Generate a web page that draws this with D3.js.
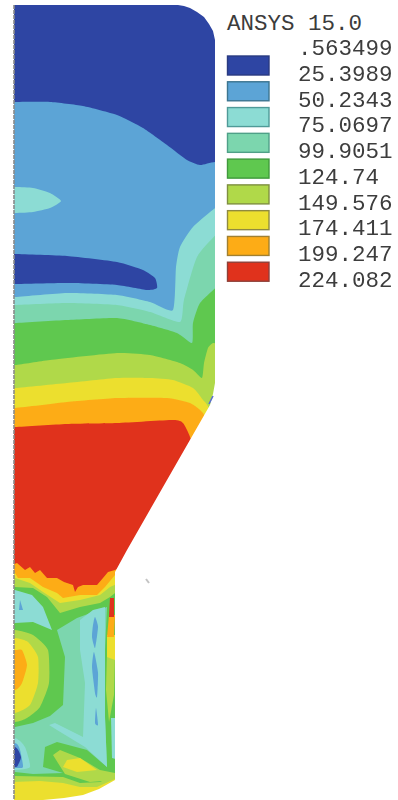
<!DOCTYPE html>
<html>
<head>
<meta charset="utf-8">
<style>
  html, body { margin: 0; background: #fff; overflow: hidden; }
  svg { display: block; }
  text { font-family: "Liberation Mono", monospace; fill: #3c3c3c; }
</style>
<script src="https://cdn.jsdelivr.net/npm/d3@7"></script>
</head>
<body>
<svg width="398" height="800"></svg>
<script>
// legend
var title = "ANSYS 15.0";
var levels = [".563499", "25.3989", "50.2343", "75.0697", "99.9051", "124.74", "149.576", "174.411", "199.247", "224.082"];
var bandColors = ["#2e45a3", "#5ba4d6", "#8cdcd4", "#7bd6ae", "#5fc84f", "#b0d94a", "#ecdf2f", "#fdac18", "#e0301e"];
var swatchEdges = ["#2a3a80", "#3d7590", "#4f9a98", "#4fa088", "#3f9a3c", "#7f8f40", "#8f8a40", "#a08030", "#8f4038"];

// contour boundaries, [r, z]
var outline = [[0,5],[164,5],[170,6],[176,8],[183,12],[190,17],[195,24],[199,31],[201,40],[201,383],[199,394],[196,405],[153,480],[113,550],[101,572],[101,780],[85,789],[69,795],[50,798],[29,800],[0,800]];
var topBlue = [[-30,-30],[230,-30],[230,162],[201,162],[186,165],[173,160],[153,145],[129,128],[103,115],[69,106],[36,102],[1,102],[-30,102]];
var aquaPatch = [[-30,187],[1,187],[19,188],[36,193],[47,201],[36,208],[19,212],[1,213],[-30,213]];
var blueStreak = [[-30,254],[1,254],[53,256],[103,262],[129,270],[141,278],[143,288],[133,290],[103,285],[53,283],[1,284],[-30,284]];
var aquaUpper = [[-30,297],[1,297],[53,293],[103,295],[136,302],[159,310],[162,267],[166,247],[179,227],[205,205],[230,190],[230,500],[-30,500]];
var tealUpper = [[-30,305],[1,305],[53,303],[103,305],[136,312],[166,322],[170,300],[183,257],[205,232],[230,215],[230,500],[-30,500]];
var greenUpper = [[-30,323],[1,323],[53,320],[103,318],[136,325],[163,333],[178,343],[179,323],[186,303],[205,285],[230,265],[230,500],[-30,500]];
var limeUpper = [[-30,365],[1,365],[36,360],[103,353],[136,355],[166,363],[179,370],[188,378],[190,363],[194,348],[199,343],[206,345],[230,350],[230,500],[-30,500]];
var yellowUpper = [[-30,388],[1,388],[53,383],[103,378],[136,378],[159,380],[179,388],[189,400],[196,412],[215,500],[-30,500]];
var orangeUpper = [[-30,408],[1,408],[53,402],[103,398],[153,398],[176,403],[189,413],[195,430],[215,500],[-30,500]];
var redCore = [[-30,427],[1,427],[53,424],[103,423],[159,420],[169,423],[176,437],[174,446],[130,530],[110,600],[-30,600]];

var orangeLower = [[-5,566],[3,563],[11,570],[16,567],[21,573],[26,570],[33,578],[43,578],[50,582],[59,585],[61,592],[64,587],[69,585],[83,585],[89,578],[94,572],[101,570],[105,568],[105,805],[-5,805]];
var yellowLower = [[-5,572],[1,573],[4,578],[16,578],[29,587],[43,593],[49,598],[66,595],[83,595],[91,587],[101,575],[105,575],[105,805],[-5,805]];
var limeLower = [[-5,577],[1,578],[16,583],[29,592],[46,603],[66,600],[86,595],[96,587],[105,583],[105,805],[-5,805]];
var greenLower = [[-5,587],[1,587],[19,588],[33,597],[46,613],[66,607],[86,603],[96,597],[105,590],[105,805],[-5,805]];

var aquaLeft = [[-5,590],[1,590],[18,595],[29,607],[38,630],[19,622],[1,623],[-5,623]];
var blueSpot = [[6,600],[9,610],[5,610]];
var limeRing = [[-30,630],[1,630],[19,635],[34,650],[35,683],[26,707],[13,718],[1,722],[-30,722]];
var yellowRing = [[-30,638],[1,638],[14,642],[24,657],[24,683],[16,705],[1,713],[-30,713]];
var orangeRing = [[-30,650],[1,650],[8,650],[13,665],[8,683],[1,690],[-30,690]];
var tealMain = [[43,630],[63,618],[93,607],[91,650],[91,717],[93,767],[73,750],[43,742],[31,747],[29,767],[49,773],[19,774],[1,772],[-5,772],[-5,727],[1,727],[19,723],[36,716],[49,705],[51,657]];
var aquaMain = [[66,620],[79,610],[91,607],[91,717],[93,767],[71,747],[43,730],[35,725],[41,723],[69,737],[71,683],[66,650]];
var blueFleckA = [[81,617],[84,627],[81,648],[78,637],[79,625]];
var blueFleckB = [[80,652],[84,673],[83,697],[81,693],[78,667]];
var blueFleckC = [[82,708],[84,725],[81,723]];
var limeStrip = [[93,655],[101,655],[100,695],[95,722],[92,690]];
var yellowStrip = [[93,635],[101,635],[101,660],[93,657]];
var orangeStrip = [[95,615],[101,615],[100,637],[93,637]];
var redStrip = [[96,598],[100,598],[100,617],[95,617]];
var aquaStrip = [[97,718],[105,718],[105,760],[98,758]];
var aquaFoot = [[-30,737],[1,738],[11,747],[16,767],[1,770],[-30,770]];
var blueFoot = [[-30,742],[1,743],[6,750],[9,767],[1,768],[-30,768]];
var navyFoot = [[-30,746],[1,747],[7,757],[4,765],[1,767],[-30,767]];
var limeBase = [[-5,777],[1,776],[49,777],[66,783],[86,782],[101,775],[105,775],[105,805],[-5,805]];
var limeWedge = [[39,755],[46,750],[66,758],[86,770],[101,773],[101,780],[76,782],[51,774],[44,763]];
var yellowBlob = [[53,760],[66,758],[83,770],[63,772],[49,767]];
var yellowBase = [[-5,782],[26,781],[49,783],[66,787],[83,787],[101,779],[105,778],[105,805],[-5,805]];

// stray marks left in the screenshot
var strayBlue = [[195,404],[199,396]];
var strayGray = [[132,579],[135,583]];

var svg = d3.select("svg");
var xScale = d3.scaleLinear().domain([0, 202]).range([14, 216]);
var yScale = d3.scaleLinear().domain([0, 800]).range([0, 800]);

var smooth = d3.line().x(d => xScale(d[0])).y(d => yScale(d[1])).curve(d3.curveCardinalClosed.tension(0.45));
var sharp = d3.line().x(d => xScale(d[0])).y(d => yScale(d[1])).curve(d3.curveLinearClosed);
var open = d3.line().x(d => xScale(d[0])).y(d => yScale(d[1]));

svg.append("defs").append("clipPath").attr("id", "body")
    .append("path").attr("d", sharp(outline));
svg.select("defs").append("filter").attr("id", "soft")
    .append("feGaussianBlur").attr("stdDeviation", 0.5);

var c = bandColors;
// painted back to front, upper part smooth, nozzle part jagged
var layers = [
    [topBlue, c[0], smooth], [aquaPatch, c[2], smooth], [blueStreak, c[0], smooth],
    [aquaUpper, c[2], smooth], [tealUpper, c[3], smooth], [greenUpper, c[4], smooth], [limeUpper, c[5], smooth],
    [yellowUpper, c[6], smooth], [orangeUpper, c[7], smooth], [redCore, c[8], smooth],
    [orangeLower, c[7], sharp], [yellowLower, c[6], sharp], [limeLower, c[5], sharp], [greenLower, c[4], sharp],
    [aquaLeft, c[2], sharp], [blueSpot, c[1], sharp],
    [limeRing, c[5], smooth], [yellowRing, c[6], smooth], [orangeRing, c[7], smooth],
    [tealMain, c[3], sharp], [aquaMain, c[2], sharp],
    [blueFleckA, c[1], smooth], [blueFleckB, c[1], smooth], [blueFleckC, c[1], smooth],
    [limeStrip, c[5], sharp], [yellowStrip, c[6], sharp], [orangeStrip, c[7], sharp], [redStrip, c[8], sharp], [aquaStrip, c[2], sharp],
    [aquaFoot, c[2], smooth], [blueFoot, c[1], smooth], [navyFoot, c[0], smooth],
    [limeBase, c[5], sharp], [limeWedge, c[5], sharp], [yellowBlob, c[6], sharp], [yellowBase, c[6], sharp]
];

var plot = svg.append("g").attr("clip-path", "url(#body)").attr("filter", "url(#soft)");
plot.append("path").attr("d", sharp(outline)).attr("fill", c[1]);
plot.selectAll("path.band")
    .data(layers)
    .enter()
    .append("path")
    .attr("class", "band")
    .attr("d", d => d[2](d[0]))
    .attr("fill", d => d[1]);

svg.append("path").attr("d", open(strayBlue)).attr("stroke", "#5a6fd0").attr("stroke-width", 1.5).attr("fill", "none");
svg.append("path").attr("d", open(strayGray)).attr("stroke", "#c4c4c4").attr("stroke-width", 2).attr("fill", "none");

// axis of symmetry, dotted with the element edges
svg.append("line")
    .attr("x1", xScale(0)).attr("x2", xScale(0))
    .attr("y1", yScale(5)).attr("y2", yScale(800))
    .attr("stroke", "#8b8b8b")
    .attr("stroke-width", 1.6)
    .attr("stroke-dasharray", "4 1");

// legend
svg.append("text").attr("x", 227).attr("y", 30).attr("font-size", 22.5).text(title);

var labelY = d3.scalePoint().domain(levels).range([55, 287]);
var legend = svg.append("g").attr("filter", "url(#soft)");
legend.selectAll("text.level")
    .data(levels)
    .enter()
    .append("text")
    .attr("class", "level")
    .attr("x", 298)
    .attr("y", d => labelY(d))
    .attr("font-size", 22.5)
    .text(d => d);

legend.selectAll("rect")
    .data(bandColors)
    .enter()
    .append("rect")
    .attr("x", 227.5)
    .attr("y", (d, i) => labelY(levels[i]) + 1)
    .attr("width", 41.5)
    .attr("height", 19)
    .attr("fill", d => d)
    .attr("stroke", (d, i) => swatchEdges[i])
    .attr("stroke-width", 1.4);
</script>
</body>
</html>
